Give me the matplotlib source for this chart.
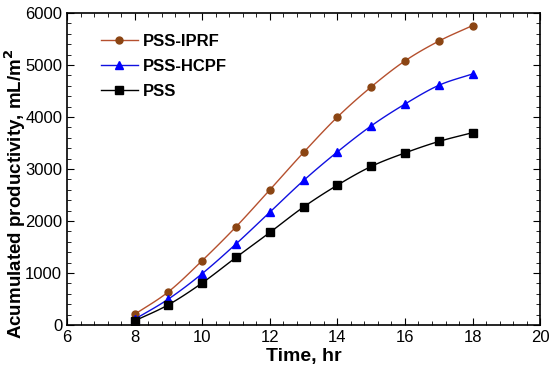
import numpy as np
import matplotlib.pyplot as plt
from matplotlib.ticker import MultipleLocator

plt.rcParams['font.family'] = ['Liberation Sans', 'DejaVu Sans']

time = [8, 9, 10, 11, 12, 13, 14, 15, 16, 17, 18]
iprf = [205, 640, 1240, 1890, 2600, 3320, 4000, 4580, 5080, 5460, 5760]
hcpf = [110, 500, 990, 1560, 2170, 2780, 3330, 3830, 4250, 4610, 4830]
pss = [80, 390, 810, 1300, 1780, 2270, 2690, 3050, 3310, 3530, 3700]


def smooth(x, y, n=12):
    # Catmull-Rom pass through the points, only for drawing the curve
    x = np.asarray(x, float)
    y = np.asarray(y, float)
    px = np.concatenate([[2 * x[0] - x[1]], x, [2 * x[-1] - x[-2]]])
    py = np.concatenate([[2 * y[0] - y[1]], y, [2 * y[-1] - y[-2]]])
    t = np.linspace(0, 1, n, endpoint=False)
    xs, ys = [], []
    for i in range(1, len(px) - 2):
        for p, out in ((px, xs), (py, ys)):
            p0, p1, p2, p3 = p[i - 1], p[i], p[i + 1], p[i + 2]
            out.extend(0.5 * (2 * p1 + (p2 - p0) * t
                              + (2 * p0 - 5 * p1 + 4 * p2 - p3) * t ** 2
                              + (3 * p1 - p0 - 3 * p2 + p3) * t ** 3))
    xs.append(x[-1])
    ys.append(y[-1])
    return xs, ys


fig = plt.figure(figsize=(5.5, 3.74), dpi=100)
ax = fig.add_axes([0.122, 0.131, 0.860, 0.834])

series = [
    (iprf, '#b5502e', 'o', 5, '#8b4513', 'PSS-IPRF'),
    (hcpf, '#1010e0', '^', 6, '#0000ff', 'PSS-HCPF'),
    (pss, 'black', 's', 6, 'black', 'PSS'),
]
for vals, lc, mk, ms, mc, lab in series:
    sx, sy = smooth(time, vals)
    ax.plot(sx, sy, color=lc, lw=1)
    ax.plot(time, vals, ls='none', marker=mk, ms=ms, mfc=mc, mec=mc)
    ax.plot([], [], color=lc, lw=1, marker=mk, ms=ms, mfc=mc, mec=mc, label=lab)

ax.set_xlim(6, 20)
ax.set_ylim(0, 6000)
ax.xaxis.set_major_locator(MultipleLocator(2))
ax.xaxis.set_minor_locator(MultipleLocator(0.4))
ax.yaxis.set_major_locator(MultipleLocator(1000))
ax.yaxis.set_minor_locator(MultipleLocator(200))
ax.tick_params(which='both', direction='in', top=True, right=True, labelsize=12)
ax.tick_params(which='major', length=5)
ax.tick_params(which='minor', length=3)
for s in ax.spines.values():
    s.set_linewidth(1.2)

ax.set_xlabel('Time, hr', fontsize=14, fontweight='bold', labelpad=2)
ax.set_ylabel('Acumulated productivity, mL/m$^\\mathbf{2}$', fontsize=13.5,
              fontweight='bold')
ax.yaxis.set_label_coords(-0.082, 0.42)

leg = ax.legend(loc='upper left', bbox_to_anchor=(0.04, 0.98), frameon=False,
                prop={'weight': 'bold', 'size': 12}, handlelength=2.2,
                labelspacing=0.6, handletextpad=0.3)

fig.savefig('out.png', dpi=100)
